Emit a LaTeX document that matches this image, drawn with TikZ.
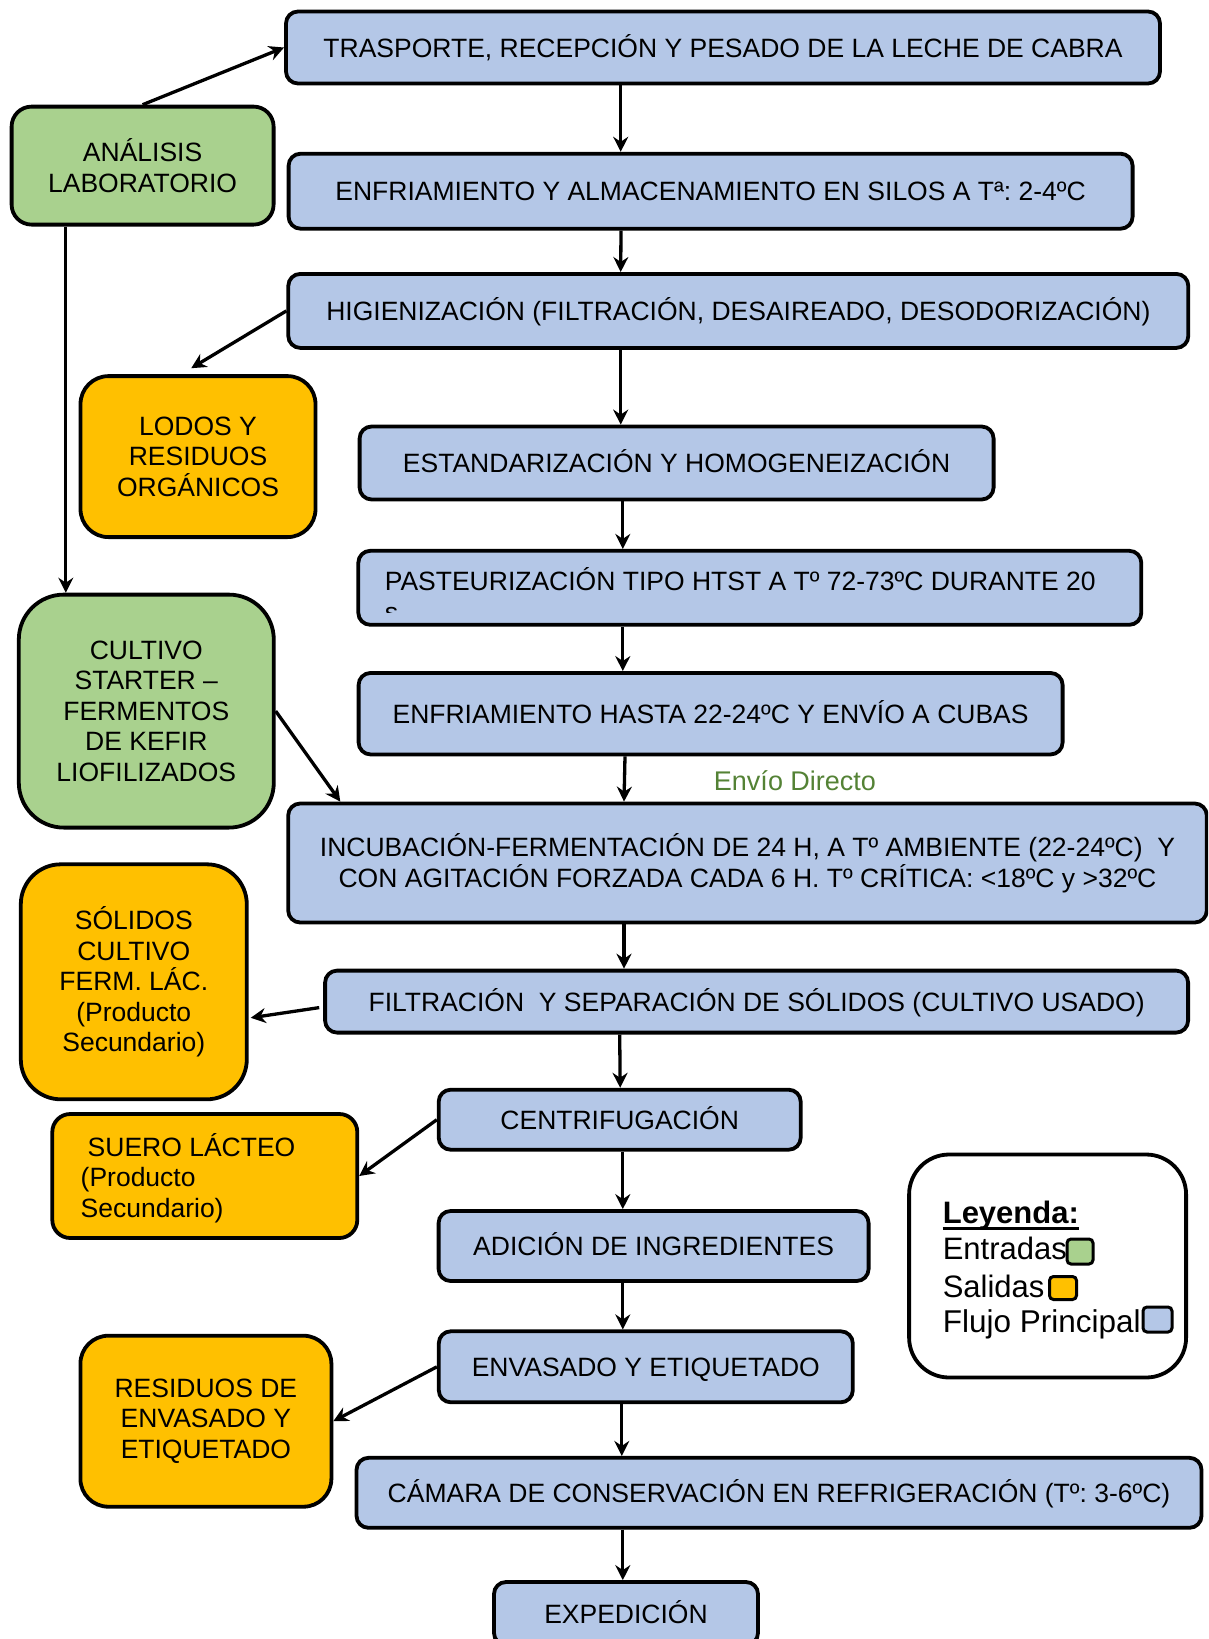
\documentclass[tikz,border=0pt]{standalone}
\usepackage{fontspec}
\setmainfont{Liberation Sans}
\usetikzlibrary{arrows.meta,calc}
\definecolor{flowblue}{HTML}{B4C7E7}
\definecolor{ingreen}{HTML}{A9D18E}
\definecolor{outorange}{HTML}{FFC000}
\definecolor{labelgreen}{HTML}{548235}
\newcommand\boxfont{\fontsize{26.5}{30.5}\selectfont}
\newcommand\legfont{\fontsize{31}{36}\selectfont}
\frenchspacing
\begin{document}
\begin{tikzpicture}[x=1pt,y=-1pt,
  box/.style={draw=black,line width=3.8pt,inner sep=0pt,align=center,font=\boxfont},
  flow/.style={box,fill=flowblue,rounded corners=12pt},
  inbox/.style={box,fill=ingreen},
  outbox/.style={box,fill=outorange},
  one/.style={text height=19pt,text depth=0pt},
  txt/.style={inner sep=0pt,font=\boxfont},
  arr/.style={line width=3.3pt,-{Stealth[length=15pt,width=15pt,inset=5pt]}},
  swatch/.style={draw=black,line width=3pt,rounded corners=4pt,inner sep=0pt},
  legtxt/.style={inner sep=0pt,anchor=base west,font=\legfont}]
\useasboundingbox (0,0) rectangle (1208,1639);
\fill[white] (0,0) rectangle (1208,1639);
\clip (0,0) rectangle (1208,1639);

% main flow
\node[flow,one,minimum width=874pt,minimum height=72pt] (b1) at (723,47.5) {TRASPORTE, RECEPCIÓN Y PESADO DE LA LECHE DE CABRA};
\node[flow,one,minimum width=844pt,minimum height=75pt] (b2) at (710.6,191.2) {ENFRIAMIENTO Y ALMACENAMIENTO EN SILOS A Tª: 2-4ºC};
\node[flow,one,minimum width=900pt,minimum height=74pt] (b3) at (738.3,310.9) {HIGIENIZACIÓN (FILTRACIÓN, DESAIREADO, DESODORIZACIÓN)};
\node[flow,one,minimum width=634pt,minimum height=73pt] (b4) at (676.6,463) {ESTANDARIZACIÓN Y HOMOGENEIZACIÓN};
\node[flow,minimum width=783pt,minimum height=74pt] (b5) at (749.8,587.8) {};
\node[txt,anchor=base west] (p5) at (384.6,590.5) {PASTEURIZACIÓN TIPO HTST A Tº 72-73ºC DURANTE 20};
\begin{scope}
\clip (370,596) rectangle (420,612);
\node[txt,anchor=base west] (p5s) at (384.6,621) {s};
\end{scope}
\node[flow,one,minimum width=704pt,minimum height=81.5pt] (b6) at (710.6,713.7) {ENFRIAMIENTO HASTA 22-24ºC Y ENVÍO A CUBAS};
\node[flow,minimum width=918.6pt,minimum height=119pt] (b7) at (747.5,863) {INCUBACIÓN-FERMENTACIÓN DE 24 H, A Tº AMBIENTE (22-24ºC)\ \ Y\\CON AGITACIÓN FORZADA CADA 6 H. Tº CRÍTICA: <18ºC y >32ºC};
\node[flow,one,minimum width=863pt,minimum height=62pt] (b8) at (756.6,1001.6) {FILTRACIÓN\ \ Y SEPARACIÓN DE SÓLIDOS (CULTIVO USADO)};
\node[flow,one,minimum width=362pt,minimum height=60pt] (b9) at (619.7,1119.7) {CENTRIFUGACIÓN};
\node[flow,one,minimum width=430pt,minimum height=70pt] (b10) at (653.6,1246) {ADICIÓN DE INGREDIENTES};
\node[flow,one,minimum width=414pt,minimum height=71pt] (b11) at (645.8,1366.8) {ENVASADO Y ETIQUETADO};
\node[flow,one,minimum width=845pt,minimum height=70pt] (b12) at (779,1492.8) {CÁMARA DE CONSERVACIÓN EN REFRIGERACIÓN (Tº: 3-6ºC)};
\node[flow,one,minimum width=264pt,minimum height=63pt] (b13) at (626,1613.5) {EXPEDICIÓN};

% side boxes
\node[inbox,rounded corners=20pt,minimum width=262pt,minimum height=118pt] (an) at (142.6,165.6) {ANÁLISIS\\LABORATORIO};
\node[outbox,rounded corners=28pt,minimum width=235pt,minimum height=161pt] (lo) at (198,456.6) {LODOS Y\\RESIDUOS\\ORGÁNICOS};
\node[inbox,rounded corners=45pt,minimum width=255pt,minimum height=233pt] (cu) at (146.3,711.1) {CULTIVO\\STARTER –\\FERMENTOS\\DE KEFIR\\LIOFILIZADOS};
\node[outbox,rounded corners=40pt,minimum width=226pt,minimum height=235pt] (so) at (133.8,981.8) {SÓLIDOS\\CULTIVO\\FERM. LÁC.\\(Producto\\Secundario)};
\node[outbox,rounded corners=18pt,minimum width=305pt,minimum height=124pt] (su) at (204.8,1176) {};
\node[txt,anchor=west,align=left] (sut) at (80.5,1177.8) {\hspace*{7pt}SUERO LÁCTEO\\(Producto\\Secundario)};
\node[outbox,rounded corners=28pt,minimum width=251pt,minimum height=171pt] (re) at (205.9,1421.2) {RESIDUOS DE\\ENVASADO Y\\ETIQUETADO};

% legend
\node[draw=black,line width=3.8pt,fill=white,rounded corners=40pt,minimum width=277pt,minimum height=223pt] (lg) at (1047.6,1266) {};
\node[legtxt,font=\legfont\bfseries] (ly) at (942.6,1223) {Leyenda:};
\draw[line width=2.7pt] ($(ly.base west)+(0,5.5)$) -- ($(ly.base east)+(0,5.5)$);
\node[legtxt] (le) at (942.6,1259) {Entradas};
\node[legtxt] (ls) at (942.6,1297) {Salidas};
\node[legtxt,font=\fontsize{31.5}{36}\selectfont] (lf) at (942.6,1332) {Flujo Principal};
\node[swatch,fill=ingreen,minimum width=26pt,minimum height=25pt] (sqg) at (1080,1251.5) {};
\node[swatch,fill=outorange,minimum width=27pt,minimum height=23pt] (sqo) at (1063,1288) {};
\node[swatch,fill=flowblue,minimum width=29pt,minimum height=25pt] (sqb) at (1157.5,1319.5) {};

% label
\node[inner sep=0pt,anchor=base,font=\fontsize{27}{30}\selectfont,text=labelgreen] (ed) at (795,790) {Envío Directo};

% vertical connectors
\draw[arr] (b1.south -| 620.7,0) -- (b2.north -| 620.7,0);
\draw[arr] (b2.south -| 621,0) -- (b3.north -| 620.7,0);
\draw[arr] (b3.south -| 620.7,0) -- (b4.north -| 620.7,0);
\draw[arr] (b4.south -| 622.8,0) -- (b5.north -| 622.8,0);
\draw[arr] (b5.south -| 622.8,0) -- (b6.north -| 622.8,0);
\draw[arr] (b6.south -| 625,0) -- (b7.north -| 624,0);
\draw[arr] (b7.south -| 624,0) -- (b8.north -| 624,0);
\draw[arr] (b8.south -| 619.7,0) -- (b9.north -| 620.2,0);
\draw[arr] (b9.south -| 622.8,0) -- (b10.north -| 622.8,0);
\draw[arr] (b10.south -| 622.8,0) -- (b11.north -| 622.8,0);
\draw[arr] (b11.south -| 621.8,0) -- (b12.north -| 621.8,0);
\draw[arr] (b12.south -| 622.8,0) -- (b13.north -| 622.8,0);

% side connectors
\draw[arr] (an.north) -- (b1.west);
\draw[arr] (an.south -| 65.8,0) -- (cu.north -| 65.8,0);
\draw[arr] (b3.west) -- ($(lo.north -| 191.2,0)+(0,-6)$);
\draw[arr] (cu.east) -- ($(b7.north west)+(54,0)$);
\draw[arr] ($(b8.west)+(-4,6)$) -- ($(so.east)+(2,36)$);
\draw[arr] (b9.west) -- (su.east);
\draw[arr] (b11.west) -- (re.east);
\end{tikzpicture}
\end{document}
